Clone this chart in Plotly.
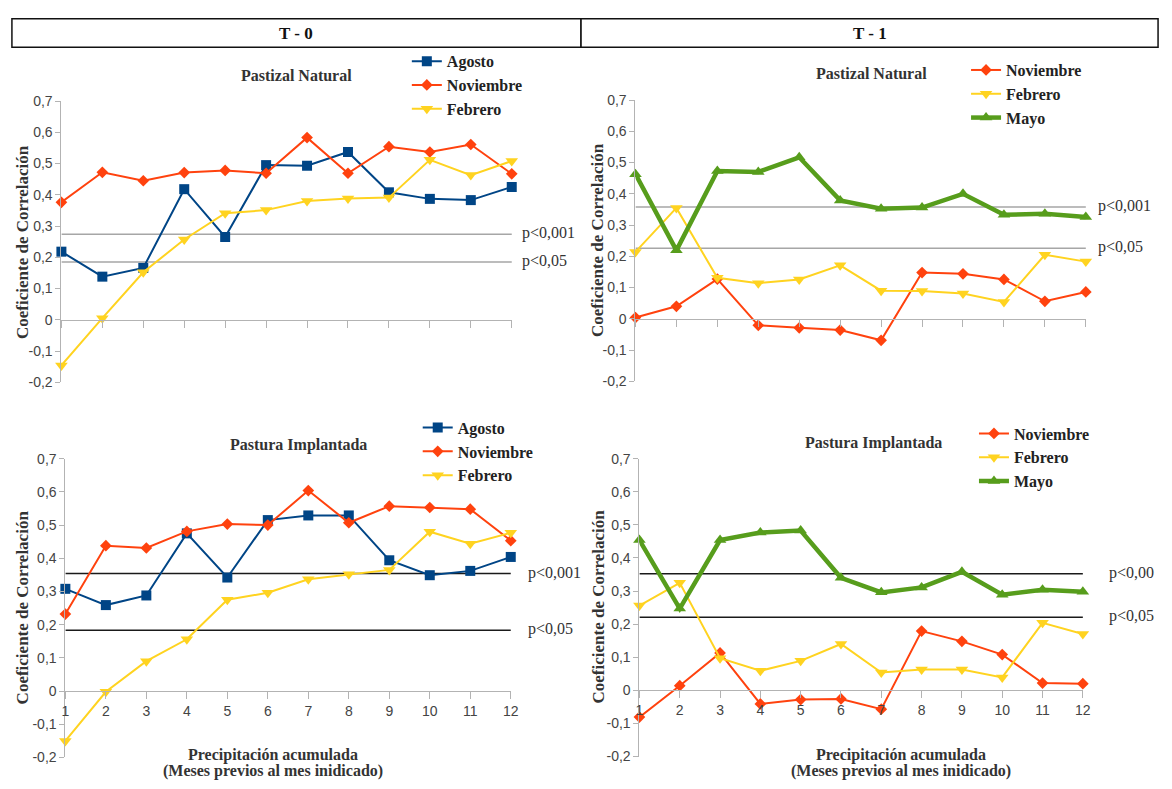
import plotly.graph_objects as go

W, H = 1172, 789

# ---------------- data ----------------
meses = list(range(1, 13))
x_tick_labels = [str(m) for m in meses]
y_ticks = [-0.2, -0.1, 0, 0.1, 0.2, 0.3, 0.4, 0.5, 0.6, 0.7]
y_tick_labels = ["-0,2", "-0,1", "0", "0,1", "0,2", "0,3", "0,4", "0,5", "0,6", "0,7"]

# T-0 Pastizal Natural
t0_pn_agosto = [0.218, 0.138, 0.166, 0.418, 0.265, 0.495, 0.493, 0.537, 0.408, 0.387, 0.383, 0.425]
t0_pn_noviembre = [0.376, 0.472, 0.445, 0.471, 0.478, 0.469, 0.583, 0.469, 0.554, 0.537, 0.561, 0.467]
t0_pn_febrero = [-0.146, 0.005, 0.152, 0.257, 0.341, 0.351, 0.380, 0.388, 0.391, 0.512, 0.463, 0.508]
t0_pn_p001, t0_pn_p05 = 0.274, 0.185

# T-1 Pastizal Natural
t1_pn_noviembre = [0.004, 0.040, 0.127, -0.021, -0.029, -0.036, -0.069, 0.148, 0.144, 0.126, 0.056, 0.086]
t1_pn_febrero = [0.214, 0.355, 0.131, 0.114, 0.126, 0.171, 0.090, 0.089, 0.081, 0.054, 0.205, 0.183]
t1_pn_mayo = [0.463, 0.219, 0.473, 0.470, 0.517, 0.379, 0.352, 0.356, 0.400, 0.333, 0.336, 0.326]
t1_pn_p001, t1_pn_p05 = 0.358, 0.226

# T-0 Pastura Implantada
t0_pi_agosto = [0.308, 0.259, 0.288, 0.475, 0.342, 0.515, 0.529, 0.529, 0.394, 0.349, 0.362, 0.404]
t0_pi_noviembre = [0.232, 0.438, 0.431, 0.481, 0.503, 0.500, 0.604, 0.507, 0.557, 0.553, 0.548, 0.453]
t0_pi_febrero = [-0.150, -0.002, 0.090, 0.156, 0.275, 0.296, 0.337, 0.352, 0.365, 0.480, 0.444, 0.477]
t0_pi_p001, t0_pi_p05 = 0.354, 0.183

# T-1 Pastura Implantada
t1_pi_noviembre = [-0.081, 0.014, 0.113, -0.041, -0.028, -0.026, -0.057, 0.179, 0.148, 0.108, 0.022, 0.020]
t1_pi_febrero = [0.256, 0.325, 0.097, 0.059, 0.089, 0.140, 0.054, 0.063, 0.063, 0.039, 0.204, 0.170]
t1_pi_mayo = [0.454, 0.247, 0.454, 0.477, 0.483, 0.340, 0.296, 0.311, 0.358, 0.289, 0.304, 0.298]
t1_pi_p001, t1_pi_p05 = 0.352, 0.221

# ---------------- styles ----------------
C_AGO, C_NOV, C_FEB, C_MAY = "#004586", "#ff420e", "#ffd320", "#579d1c"
SERIF = "Liberation Serif, DejaVu Serif, serif"
SANS = "Liberation Sans Narrow, Arial Narrow, Liberation Sans, sans-serif"
AXIS_GRAY = "#b3b3b3"

def px(x):
    return x / W

def py(y):
    return 1 - y / H

panels = {
    "tl": dict(x0=58, x1=513, y0=95, y1=382, xa="x", ya="y", leg="legend"),
    "tr": dict(x0=638, x1=1093, y0=94, y1=381, xa="x2", ya="y2", leg="legend2"),
    "bl": dict(x0=62, x1=512, y0=460, y1=765, xa="x3", ya="y3", leg="legend3"),
    "br": dict(x0=642, x1=1090, y0=460, y1=764, xa="x4", ya="y4", leg="legend4"),
}

fig = go.Figure()

def add_series(panel, name, values, color, symbol, size, width):
    p = panels[panel]
    fig.add_trace(go.Scatter(
        x=meses, y=values, name=name, mode="lines+markers",
        line=dict(color=color, width=width),
        marker=dict(symbol=symbol, size=size, color=color),
        xaxis=p["xa"], yaxis=p["ya"], legend=p["leg"], cliponaxis=False,
    ))

add_series("tl", "Agosto", t0_pn_agosto, C_AGO, "square", 10, 2)
add_series("tl", "Noviembre", t0_pn_noviembre, C_NOV, "diamond", 9, 2)
add_series("tl", "Febrero", t0_pn_febrero, C_FEB, "triangle-down", 11, 2)

add_series("tr", "Noviembre", t1_pn_noviembre, C_NOV, "diamond", 9, 2)
add_series("tr", "Febrero", t1_pn_febrero, C_FEB, "triangle-down", 11, 2)
add_series("tr", "Mayo", t1_pn_mayo, C_MAY, "triangle-up", 11, 4.5)

add_series("bl", "Agosto", t0_pi_agosto, C_AGO, "square", 10, 2)
add_series("bl", "Noviembre", t0_pi_noviembre, C_NOV, "diamond", 9, 2)
add_series("bl", "Febrero", t0_pi_febrero, C_FEB, "triangle-down", 11, 2)

add_series("br", "Noviembre", t1_pi_noviembre, C_NOV, "diamond", 9, 2)
add_series("br", "Febrero", t1_pi_febrero, C_FEB, "triangle-down", 11, 2)
add_series("br", "Mayo", t1_pi_mayo, C_MAY, "triangle-up", 11, 4.5)

layout = dict(
    width=W, height=H, margin=dict(l=0, r=0, t=0, b=0),
    paper_bgcolor="white", plot_bgcolor="rgba(0,0,0,0)",
    showlegend=True,
)

shapes = []
annotations = []

legend_pos = {
    "tl": (407, 37),
    "tr": (972, 46),
    "bl": (418, 411),
    "br": (980, 417),
}
x_title_center = {"bl": 272, "br": 906}
p_lines = {
    "tl": (t0_pn_p001, t0_pn_p05, 12.15, "p<0,001", "p<0,05", "#a6a6a6", "Pastizal Natural"),
    "tr": (t1_pn_p001, t1_pn_p05, 12.2, "p<0,001", "p<0,05", "#a6a6a6", "Pastizal Natural"),
    "bl": (t0_pi_p001, t0_pi_p05, 12.32, "p<0,001", "p<0,05", "#1a1a1a", "Pastura Implantada"),
    "br": (t1_pi_p001, t1_pi_p05, 12.55, "p<0,00", "p<0,05", "#1a1a1a", "Pastura Implantada"),
}
title_pos = {"tl": (296, 69), "tr": (876, 67), "bl": (298, 446), "br": (878, 444)}
ytitle_pos = {"tl": (18, 239), "tr": (599, 237), "bl": (19, 612), "br": (601, 611)}

for key, p in panels.items():
    xa_name = "xaxis" + p["xa"][1:]
    ya_name = "yaxis" + p["ya"][1:]
    ydom = [py(p["y1"]), py(p["y0"])]
    zero_px = p["y0"] + (0.7 / 0.9) * (p["y1"] - p["y0"])
    bottom = key in ("bl", "br")
    layout[xa_name] = dict(
        domain=[px(p["x0"]), px(p["x1"])], range=[1, 12],
        anchor="free", position=py(zero_px),
        showline=True, linecolor=AXIS_GRAY, linewidth=1,
        ticks="outside", ticklen=7, tickcolor=AXIS_GRAY,
        tickvals=meses, ticktext=x_tick_labels,
        showticklabels=bottom, showgrid=False, zeroline=False,
        tickfont=dict(family=SANS, size=14, color="#444"),
        fixedrange=True,
    )
    layout[ya_name] = dict(
        domain=ydom, range=[-0.2, 0.7], anchor=p["xa"],
        showline=True, linecolor=AXIS_GRAY, linewidth=1,
        ticks="outside", ticklen=5, tickcolor=AXIS_GRAY,
        tickvals=y_ticks, ticktext=y_tick_labels,
        showgrid=False, zeroline=False,
        tickfont=dict(family=SANS, size=14, color="#444"),
        fixedrange=True,
    )
    lx, ly = legend_pos[key]
    layout[p["leg"]] = dict(
        x=px(lx), y=py(ly), xanchor="left", yanchor="top",
        bgcolor="rgba(0,0,0,0)", borderwidth=0,
        font=dict(family=SERIF, size=16, color="#222", weight="bold"),
        itemwidth=30, tracegroupgap=0,
    )
    v1, v2, xend, lab1, lab2, col, title = p_lines[key]
    xend_px = p["x0"] + (xend - 1) / 11 * (p["x1"] - p["x0"])
    for v, lab in ((v1, lab1), (v2, lab2)):
        shapes.append(dict(type="line", xref=p["xa"], yref=p["ya"],
                           x0=1, x1=xend, y0=v, y1=v,
                           line=dict(color=col, width=1.5), layer="below"))
        annotations.append(dict(xref="paper", yref=p["ya"], x=px(xend_px), y=v,
                                text=lab, showarrow=False, xanchor="left", yanchor="middle",
                                xshift=2, yshift=1,
                                font=dict(family=SERIF, size=16, color="#333")))
    tx, ty = title_pos[key]
    annotations.append(dict(xref="paper", yref="paper", x=px(tx), y=py(ty),
                            text=title, showarrow=False, xanchor="center", yanchor="middle",
                            font=dict(family=SERIF, size=16, color="#333", weight="bold")))
    yx, yy = ytitle_pos[key]
    annotations.append(dict(xref="paper", yref="paper", x=px(yx), y=py(yy),
                            text="Coeficiente de Correlación", showarrow=False, textangle=-90,
                            xanchor="center", yanchor="middle",
                            font=dict(family=SERIF, size=17, color="#333", weight="bold")))
    if bottom:
        cx = x_title_center[key]
        annotations.append(dict(xref="paper", yref="paper", x=px(cx), y=py(762),
                                text="Precipitación acumulada", showarrow=False,
                                xanchor="center", yanchor="middle",
                                font=dict(family=SERIF, size=16, color="#333", weight="bold")))
        annotations.append(dict(xref="paper", yref="paper", x=px(cx), y=py(779),
                                text="(Meses previos al mes inidicado)", showarrow=False,
                                xanchor="center", yanchor="middle",
                                font=dict(family=SERIF, size=16, color="#333", weight="bold")))

for (bx0, bx1, label) in ((8, 583, "T - 0"), (583, 1166, "T - 1")):
    shapes.append(dict(type="rect", xref="paper", yref="paper",
                       x0=px(bx0), x1=px(bx1), y0=py(40), y1=py(11),
                       line=dict(color="#111", width=1.5), fillcolor="white"))
    annotations.append(dict(xref="paper", yref="paper", x=px((bx0 + bx1) / 2), y=py(26),
                            text=label, showarrow=False, xanchor="center", yanchor="middle",
                            font=dict(family=SERIF, size=17, color="#111", weight="bold")))

layout["shapes"] = shapes
layout["annotations"] = annotations
fig.update_layout(**layout)

fig.write_html(
    "out.html",
    config={"displayModeBar": False},
    post_script="document.documentElement.style.margin='0';document.body.style.margin='0';"
                "document.body.style.padding='0';document.body.style.overflow='hidden';",
)
